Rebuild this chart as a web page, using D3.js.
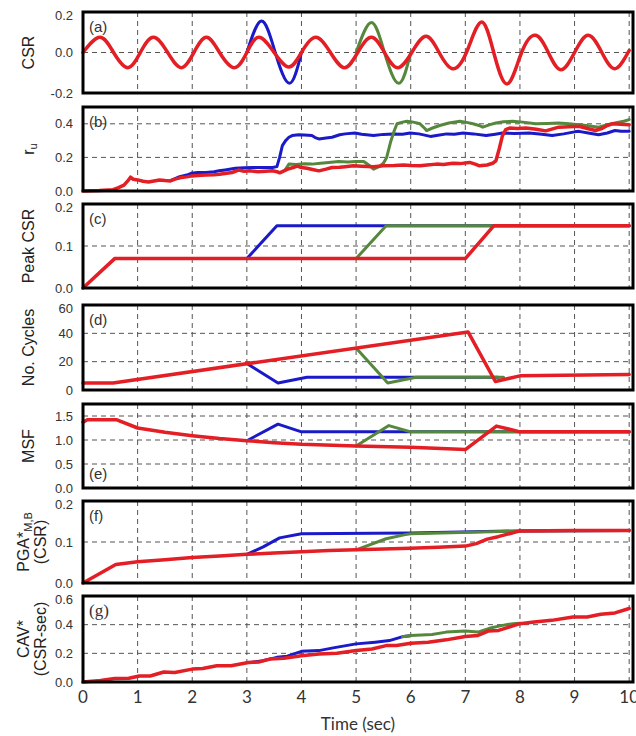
<!DOCTYPE html>
<html>
<head>
<meta charset="utf-8">
<script src="https://cdn.jsdelivr.net/npm/d3@7"></script>
<style>
  body { margin: 0; background: #fff; }
</style>
</head>
<body>
<div id="chart"></div>
<script>
// time axis
const timeTicks = [0, 1, 2, 3, 4, 5, 6, 7, 8, 9, 10];

// (a) CSR time history (peaks, troughs and zero crossings)
const csrRed = [[0,0],[0.31,0.075],[0.56,0],[0.82,-0.075],[1.05,0],[1.29,0.075],[1.55,0],[1.8,-0.075],[2.03,0],
  [2.26,0.075],[2.5,0],[2.77,-0.075],[3.0,0],[3.22,0.075],[3.5,0],[3.77,-0.072],[4.0,0],[4.26,0.075],[4.53,0],
  [4.79,-0.075],[5.03,0],[5.28,0.075],[5.52,0],[5.76,-0.075],[6.02,0],[6.28,0.08],[6.52,0],[6.76,-0.08],[7.02,0],
  [7.29,0.15],[7.52,0],[7.77,-0.155],[8.03,0],[8.29,0.085],[8.52,0],[8.75,-0.085],[9.0,0],[9.25,0.085],[9.5,0],
  [9.74,-0.08],[10,0.01]];
const csrBlue = [[3.0,0],[3.27,0.155],[3.52,0],[3.78,-0.152],[4.0,0]];
const csrGreen = [[5.0,0],[5.28,0.148],[5.52,0],[5.78,-0.152],[6.0,0]];

// (b) excess pore pressure ratio
const ruRed = [[0,0],[0.3,0.003],[0.55,0.008],[0.65,0.02],[0.75,0.035],[0.82,0.06],[0.87,0.082],[0.92,0.07],
  [1.0,0.066],[1.1,0.058],[1.2,0.054],[1.3,0.06],[1.4,0.066],[1.5,0.062],[1.6,0.06],[1.7,0.072],[1.8,0.08],
  [1.9,0.084],[2.0,0.09],[2.1,0.092],[2.25,0.095],[2.4,0.097],[2.5,0.1],[2.6,0.104],[2.73,0.11],[2.8,0.118],
  [2.85,0.125],[2.95,0.118],[3.05,0.12],[3.2,0.115],[3.35,0.118],[3.47,0.12],[3.55,0.115],[3.6,0.108],[3.68,0.12],
  [3.75,0.13],[3.85,0.14],[3.92,0.148],[4.0,0.14],[4.1,0.135],[4.2,0.128],[4.32,0.12],[4.45,0.13],[4.56,0.14],
  [4.7,0.142],[4.8,0.145],[4.95,0.15],[5.1,0.148],[5.32,0.145],[5.5,0.15],[5.7,0.152],[5.87,0.155],[6.0,0.152],
  [6.17,0.15],[6.3,0.155],[6.47,0.16],[6.6,0.158],[6.77,0.165],[6.9,0.163],[7.08,0.17],[7.18,0.16],[7.26,0.15],
  [7.4,0.155],[7.5,0.165],[7.56,0.18],[7.62,0.25],[7.68,0.33],[7.74,0.365],[7.81,0.375],[7.95,0.372],[8.11,0.375],
  [8.3,0.368],[8.47,0.358],[8.6,0.37],[8.71,0.38],[8.9,0.382],[9.08,0.385],[9.2,0.375],[9.38,0.36],[9.5,0.372],
  [9.6,0.39],[9.69,0.4],[9.85,0.398],[10,0.395]];
const ruBlue = [[1.6,0.062],[1.77,0.085],[1.9,0.095],[1.98,0.105],[2.1,0.11],[2.25,0.11],[2.4,0.115],[2.49,0.12],
  [2.6,0.125],[2.79,0.135],[2.95,0.138],[3.1,0.14],[3.3,0.14],[3.47,0.14],[3.55,0.145],[3.6,0.2],[3.65,0.27],
  [3.71,0.3],[3.77,0.32],[3.83,0.33],[3.95,0.335],[4.05,0.333],[4.19,0.33],[4.25,0.318],[4.32,0.31],[4.45,0.315],
  [4.56,0.32],[4.7,0.335],[4.8,0.34],[4.98,0.345],[5.1,0.338],[5.32,0.33],[5.5,0.337],[5.68,0.34],[5.85,0.338],
  [5.99,0.345],[6.15,0.34],[6.36,0.325],[6.5,0.332],[6.66,0.34],[6.8,0.338],[6.96,0.345],[7.15,0.34],[7.38,0.33],
  [7.55,0.338],[7.68,0.345],[7.9,0.342],[8.17,0.345],[8.4,0.338],[8.59,0.33],[8.8,0.34],[9.0,0.352],[9.08,0.355],
  [9.25,0.345],[9.44,0.335],[9.6,0.345],[9.74,0.36],[9.85,0.355],[10,0.355]];
const ruGreen = [[3.7,0.125],[3.77,0.16],[3.9,0.158],[4.05,0.162],[4.19,0.16],[4.35,0.165],[4.5,0.17],[4.68,0.175],
  [4.85,0.172],[5.0,0.175],[5.14,0.176],[5.25,0.15],[5.32,0.13],[5.42,0.145],[5.5,0.165],[5.56,0.2],[5.63,0.29],
  [5.7,0.36],[5.75,0.4],[5.85,0.41],[5.93,0.415],[6.05,0.41],[6.17,0.4],[6.25,0.375],[6.29,0.36],[6.4,0.375],
  [6.53,0.39],[6.7,0.405],[6.9,0.415],[7.0,0.41],[7.14,0.4],[7.25,0.39],[7.32,0.38],[7.45,0.395],[7.56,0.405],
  [7.7,0.412],[7.87,0.415],[8.05,0.41],[8.29,0.4],[8.5,0.402],[8.71,0.405],[8.9,0.4],[9.08,0.395],[9.25,0.388],
  [9.44,0.38],[9.6,0.395],[9.74,0.405],[9.9,0.415],[10,0.425]];

// (c) peak CSR
const peakRed = [[0,0],[0.58,0.07],[7.0,0.07],[7.52,0.148],[10,0.148]];
const peakBlue = [[3.0,0.07],[3.55,0.148],[10,0.148]];
const peakGreen = [[5.0,0.07],[5.55,0.148],[10,0.148]];

// (d) number of cycles
const cycRed = [[0,5],[0.55,5],[7.05,41],[7.55,6],[8.0,10],[10,11]];
const cycBlue = [[3.0,18.7],[3.57,5],[4.1,9],[7.6,9]];
const cycGreen = [[5.0,29.6],[5.58,5],[6.1,9],[7.7,9]];

// (e) magnitude scaling factor
const msfRed = [[0,1.37],[0.08,1.42],[0.62,1.42],[1.0,1.25],[1.5,1.16],[2.0,1.09],[2.5,1.03],[3.0,0.985],
  [3.5,0.945],[4.0,0.91],[5,0.875],[6,0.85],[7,0.8],[7.57,1.29],[8.0,1.17],[10,1.17]];
const msfBlue = [[3.0,0.985],[3.57,1.33],[4.0,1.17],[10,1.17]];
const msfGreen = [[5.0,0.875],[5.6,1.3],[6.0,1.17],[10,1.17]];

// (f) PGA*_M,B
const pgaRed = [[0,0],[0.6,0.045],[1,0.052],[1.5,0.057],[2,0.062],[2.5,0.066],[3,0.07],[3.5,0.073],[4,0.076],
  [4.5,0.079],[5,0.081],[5.5,0.083],[6,0.085],[6.5,0.087],[7,0.09],[7.2,0.096],[7.4,0.107],[7.6,0.113],
  [8,0.127],[9,0.128],[10,0.128]];
const pgaBlue = [[3.0,0.07],[3.3,0.088],[3.6,0.11],[4.0,0.12],[6.0,0.122],[8,0.127],[10,0.128]];
const pgaGreen = [[5.0,0.081],[5.55,0.108],[5.9,0.118],[6.0,0.12],[8,0.127],[10,0.128]];

// (g) CAV*
const cavRed = [[0,0],[0.32,0.01],[0.58,0.024],[0.84,0.026],[1.03,0.042],[1.23,0.042],[1.48,0.07],[1.68,0.066],
  [2.0,0.09],[2.19,0.094],[2.45,0.113],[2.71,0.113],[3.03,0.136],[3.23,0.14],[3.42,0.16],[3.68,0.165],[4.0,0.183],
  [4.32,0.195],[4.65,0.2],[5.0,0.22],[5.29,0.23],[5.55,0.254],[5.74,0.254],[6.0,0.27],[6.32,0.278],[6.65,0.294],
  [7.0,0.318],[7.23,0.325],[7.42,0.355],[7.61,0.36],[7.8,0.383],[8.0,0.407],[8.26,0.419],[8.58,0.43],[8.97,0.454],
  [9.23,0.454],[9.48,0.473],[9.74,0.482],[10,0.513]];
const cavBlue = [[3.1,0.138],[3.29,0.148],[3.55,0.172],[3.74,0.18],[4.0,0.214],[4.32,0.219],[4.58,0.238],
  [5.0,0.266],[5.35,0.278],[5.61,0.289],[5.87,0.318],[6.0,0.322]];
const cavGreen = [[5.85,0.316],[6.0,0.325],[6.39,0.332],[6.65,0.348],[7.0,0.355],[7.23,0.348],[7.48,0.379],
  [7.68,0.395],[7.87,0.407],[8.0,0.41]];

// y tick values per panel
const csrTicks = [-0.2, 0, 0.2];
const ruTicks = [0, 0.2, 0.4];
const peakTicks = [0, 0.1, 0.2];
const cycTicks = [0, 20, 40, 60];
const msfTicks = [0, 0.5, 1.0, 1.5];
const pgaTicks = [0, 0.1, 0.2];
const cavTicks = [0, 0.2, 0.4, 0.6];

const width = 636, height = 736;
const left = 83, right = 633;
const sans = "'Liberation Sans', Arial, sans-serif";
const colors = { blue: "#1a1ac8", green: "#55873c", red: "#e31e24" };

const svg = d3.select("#chart").append("svg")
    .attr("width", width)
    .attr("height", height);

const x = d3.scaleLinear().domain([0, 10.07]).range([left, right]);

const f1 = v => d3.format(".1f")(v).replace("\u2212", "-");
const f0 = d3.format("d");

// panel layout
const panels = [
  { tag: "(a)", domain: [-0.2, 0.2], top: 12, bottom: 93, ticks: csrTicks, grid: [0], fmt: f1,
    blue: csrBlue, green: csrGreen, red: csrRed, curve: d3.curveNatural,
    title: [{ x: 28, text: "CSR" }] },
  { tag: "(b)", domain: [0, 0.5], top: 107, bottom: 191, ticks: ruTicks, grid: [0.2, 0.4], fmt: f1,
    blue: ruBlue, green: ruGreen, red: ruRed, curve: d3.curveLinear,
    title: [{ x: 28, text: "r", sub: "u" }] },
  { tag: "(c)", domain: [0, 0.2], top: 204, bottom: 288, ticks: peakTicks, grid: [0.1], fmt: f1,
    blue: peakBlue, green: peakGreen, red: peakRed, curve: d3.curveLinear,
    title: [{ x: 28, text: "Peak CSR" }] },
  { tag: "(d)", domain: [0, 60], top: 305, bottom: 390, ticks: cycTicks, grid: [20, 40], fmt: f0,
    blue: cycBlue, green: cycGreen, red: cycRed, curve: d3.curveLinear,
    title: [{ x: 28, text: "No. Cycles" }] },
  { tag: "(e)", domain: [0, 1.75], top: 404, bottom: 488, ticks: msfTicks, grid: [0.5, 1.0, 1.5], fmt: f1,
    blue: msfBlue, green: msfGreen, red: msfRed, curve: d3.curveLinear, tagBottom: true,
    title: [{ x: 28, text: "MSF" }] },
  { tag: "(f)", domain: [0, 0.2], top: 501, bottom: 583, ticks: pgaTicks, grid: [0.1], fmt: f1,
    blue: pgaBlue, green: pgaGreen, red: pgaRed, curve: d3.curveLinear,
    title: [{ x: 23, text: "PGA*", sub: "M,B" }, { x: 40, text: "(CSR)" }] },
  { tag: "(g)", domain: [0, 0.6], top: 596, bottom: 682, ticks: cavTicks, grid: [0.2, 0.4], fmt: f1,
    blue: cavBlue, green: cavGreen, red: cavRed, curve: d3.curveLinear, serifTag: true,
    title: [{ x: 23, text: "CAV*" }, { x: 40, text: "(CSR-sec)" }] }
];

panels.forEach(p => {
  const y = d3.scaleLinear().domain(p.domain).range([p.bottom, p.top]);
  const g = svg.append("g");

  // vertical grid
  g.selectAll(".vgrid")
    .data(timeTicks.filter(t => t > 0))
    .enter().append("line")
    .attr("x1", d => x(d)).attr("x2", d => x(d))
    .attr("y1", p.top).attr("y2", p.bottom)
    .attr("stroke", "#555").attr("stroke-width", 1)
    .attr("stroke-dasharray", "5,4");

  // horizontal grid
  g.selectAll(".hgrid")
    .data(p.grid)
    .enter().append("line")
    .attr("x1", left).attr("x2", right)
    .attr("y1", d => y(d)).attr("y2", d => y(d))
    .attr("stroke", "#555").attr("stroke-width", 1)
    .attr("stroke-dasharray", "5,4");

  const line = d3.line()
    .x(d => x(d[0]))
    .y(d => y(d[1]))
    .curve(p.curve);

  ["blue", "green", "red"].forEach(k => {
    g.append("path")
      .datum(p[k])
      .attr("d", line)
      .attr("fill", "none")
      .attr("stroke", colors[k])
      .attr("stroke-width", k === "red" ? 3.5 : 3)
      .attr("stroke-linejoin", "round")
      .attr("stroke-linecap", "round");
  });

  // frame
  g.append("rect")
    .attr("x", left).attr("y", p.top)
    .attr("width", right - left).attr("height", p.bottom - p.top)
    .attr("fill", "none")
    .attr("stroke", "#000")
    .attr("stroke-width", 3);

  // y tick labels (the one at the top edge sits a little lower, as in the source figure)
  const yMax = p.domain[1];
  g.selectAll(".ytick")
    .data(p.ticks)
    .enter().append("text")
    .attr("x", 73)
    .attr("y", d => y(d) + (d === yMax ? 3 : 0))
    .attr("dy", "0.36em")
    .attr("text-anchor", "end")
    .style("font-family", sans)
    .style("font-size", "13px")
    .attr("fill", "#333")
    .text(d => p.fmt(d));

  // panel tag
  g.append("text")
    .attr("x", 89)
    .attr("y", p.tagBottom ? p.bottom - 9 : p.top + 20)
    .style("font-family", p.serifTag ? "'Liberation Serif', serif" : sans)
    .style("font-size", p.serifTag ? "17px" : "15px")
    .attr("fill", "#333")
    .text(p.tag);

  // y title
  const cy = (p.top + p.bottom) / 2;
  p.title.forEach(l => {
    const t = svg.append("text")
      .attr("transform", `translate(${l.x},${cy}) rotate(-90)`)
      .attr("text-anchor", "middle")
      .attr("dy", "0.35em")
      .style("font-family", sans)
      .style("font-size", "16px")
      .attr("fill", "#222");
    t.append("tspan").text(l.text);
    if (l.sub) {
      t.append("tspan").attr("dy", "0.35em").style("font-size", "11px").text(l.sub);
    }
  });
});

// x tick labels
svg.selectAll(".xtick")
  .data(timeTicks)
  .enter().append("text")
  .attr("x", d => x(d))
  .attr("y", 703)
  .attr("text-anchor", "middle")
  .style("font-family", "Lato, sans-serif")
  .style("font-size", "17px")
  .attr("fill", "#333")
  .text(d => d);

svg.append("text")
  .attr("x", (left + right) / 2)
  .attr("y", 730)
  .attr("text-anchor", "middle")
  .style("font-family", "Lato, sans-serif")
  .style("font-size", "17px")
  .attr("fill", "#333")
  .text("Time (sec)");
</script>
</body>
</html>
